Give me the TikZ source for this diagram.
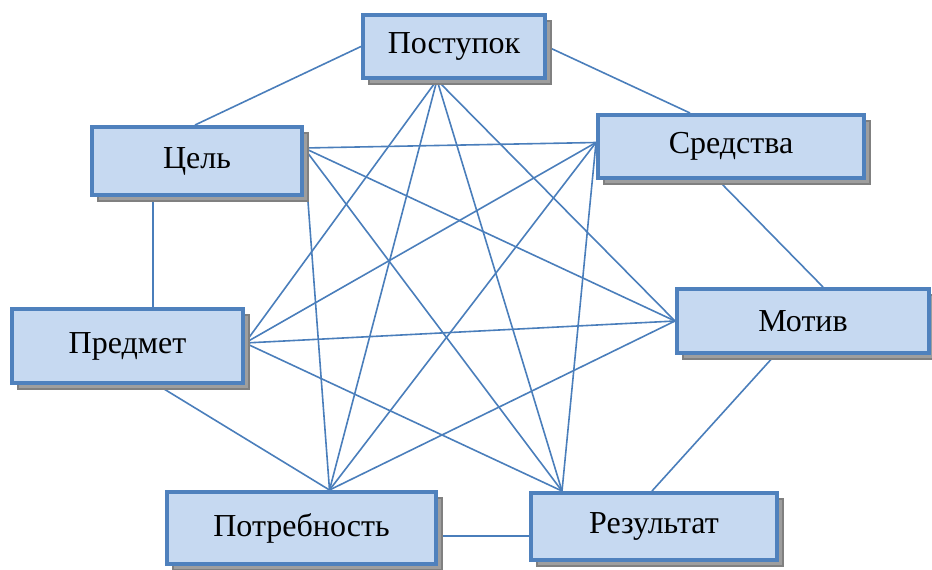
\documentclass[tikz,border=0pt]{standalone}
\usepackage{fontspec}
\setmainfont{Liberation Serif}
\usetikzlibrary{shadows,backgrounds}
\definecolor{boxborder}{HTML}{4F81BD}
\definecolor{boxfill}{HTML}{C6D9F1}
\definecolor{linkcol}{HTML}{4A7EBB}
\tikzset{
  box/.style={draw=boxborder, fill=boxfill, line width=4pt, inner sep=0pt,
    font=\fontsize{32}{38}\selectfont,
    drop shadow={shadow xshift=6pt, shadow yshift=-6pt, fill=black!38, draw=black!50, line width=1.5pt, opacity=1}},
  link/.style={draw=linkcol, line width=1.6pt}
}
\begin{document}
\begin{tikzpicture}[x=1pt,y=-1pt]
\useasboundingbox (0,0) rectangle (932,570);
\node[box, minimum width=182pt, minimum height=63pt] (post) at (454,46.5) {Поступок};
\node[box, minimum width=210pt, minimum height=68pt] (cel) at (197,161) {Цель};
\node[box, minimum width=266pt, minimum height=63pt] (sred) at (731,146.5) {Средства};
\node[box, minimum width=231pt, minimum height=74pt] (pred) at (127.5,346) {Предмет};
\node[box, minimum width=252pt, minimum height=64pt] (motiv) at (803,321) {Мотив};
\node[box, minimum width=269pt, minimum height=72pt] (potr) at (301.5,528) {Потребность};
\node[box, minimum width=246pt, minimum height=67pt] (rez) at (654,526.5) {Результат};
\begin{pgfonlayer}{background}
% hubs
\coordinate (hpost) at ([xshift=-17pt]post.south);
\coordinate (hcel) at ([yshift=13pt]cel.east);
\coordinate (hsred) at ([yshift=4pt]sred.west);
\coordinate (hpred) at ([yshift=3pt]pred.east);
\coordinate (hmotiv) at (motiv.west);
\coordinate (hpotr) at ([xshift=28pt]potr.north);
\coordinate (hrez) at ([xshift=-92pt]rez.north);
% ring
\draw[link] (post.west) -- ([xshift=-2pt]cel.north);
\draw[link] (post.east) -- ([xshift=-41pt]sred.north);
\draw[link] ([xshift=-44pt]cel.south) -- ([xshift=-44pt]cel.south |- pred.north);
\draw[link] ([xshift=-13pt]sred.south) -- ([xshift=20pt]motiv.north);
\draw[link] ([xshift=30pt]pred.south) -- (hpotr);
\draw[link] ([xshift=-28pt]motiv.south) -- ([xshift=-2pt]rez.north);
\draw[link] ([yshift=-8pt]potr.east) -- ([yshift=-8pt]potr.east -| rez.west);
% diagonals
\draw[link] (hpost) -- (hpred);
\draw[link] (hpost) -- (hmotiv);
\draw[link] (hpost) -- (hpotr);
\draw[link] (hpost) -- (hrez);
\draw[link] (hcel) -- (hsred);
\draw[link] (hcel) -- (hmotiv);
\draw[link] (hcel) -- (hpotr);
\draw[link] (hcel) -- (hrez);
\draw[link] (hsred) -- (hpred);
\draw[link] (hsred) -- (hpotr);
\draw[link] (hsred) -- (hrez);
\draw[link] (hpred) -- (hmotiv);
\draw[link] (hpred) -- (hrez);
\draw[link] (hmotiv) -- (hpotr);
\end{pgfonlayer}
\end{tikzpicture}
\end{document}
